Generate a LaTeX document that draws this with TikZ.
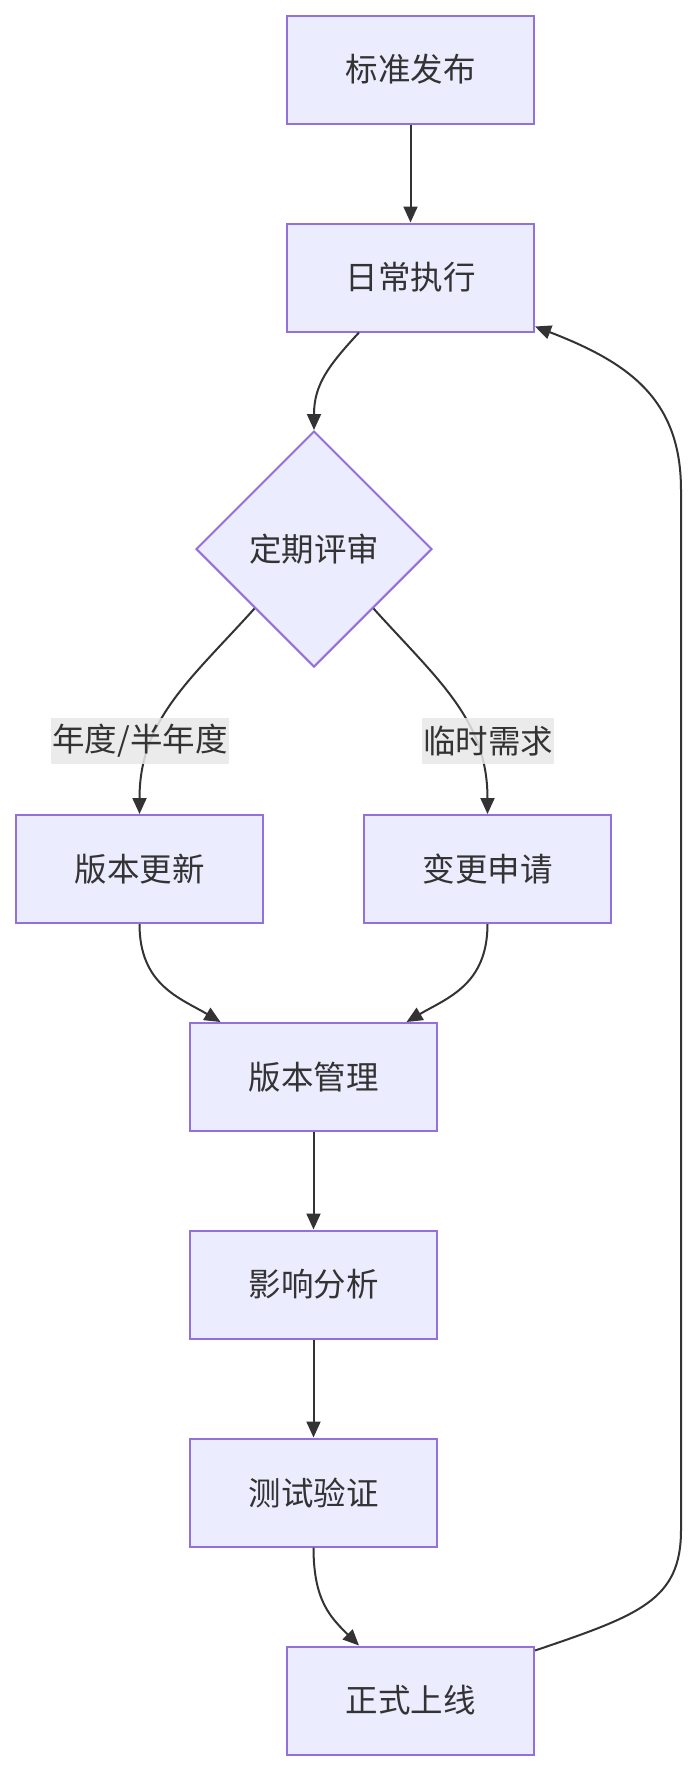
\documentclass[tikz,border=0pt]{standalone}
\usepackage{fontspec}
\setmainfont{Noto Sans CJK SC}
\usetikzlibrary{shapes.geometric,arrows.meta,calc}
\definecolor{boxfill}{HTML}{ECECFF}
\definecolor{boxline}{HTML}{9370DB}
\definecolor{edgecol}{HTML}{333333}
\definecolor{lblfill}{HTML}{E8E8E8}
\begin{document}
\begin{tikzpicture}[x=1pt,y=-1pt,
  every node/.style={font=\fontsize{32.5}{38}\selectfont, text=edgecol},
  procbox/.style={draw=boxline, fill=boxfill, line width=2pt, minimum width=247pt, minimum height=108pt, inner sep=0pt},
  decbox/.style={diamond, draw=boxline, fill=boxfill, line width=2pt, minimum width=236pt, minimum height=236pt, inner sep=0pt},
  lbl/.style={fill=lblfill, fill opacity=0.85, text opacity=1, inner xsep=1pt, inner ysep=0pt, minimum height=46pt},
  flow/.style={draw=edgecol, line width=2pt, -{Triangle[length=16pt,width=14pt]}}
]
\useasboundingbox (0,0) rectangle (698,1772);
\node[procbox] (std) at (410.5,69.5) {标准发布};
\node[procbox] (run) at (410.5,277.5) {日常执行};
\node[decbox] (dec) at (314,549) {定期评审};
\node[procbox] (upd) at (139.5,869) {版本更新};
\node[procbox] (chg) at (487.5,869) {变更申请};
\node[procbox] (mgmt) at (313.5,1077) {版本管理};
\node[procbox] (ana) at (313.5,1284.5) {影响分析};
\node[procbox] (test) at (313.5,1492.5) {测试验证};
\node[procbox] (live) at (410.5,1700.5) {正式上线};

\draw[flow] (std.south) -- (run.north);
\draw[flow] ([xshift=-51.5pt]run.south) .. controls (328,366) and (314,385) .. (dec.north);
\draw[flow] (dec.south west) .. controls (190,680) and (139.5,720) .. (upd.north);
\draw[flow] (dec.south east) .. controls (438,680) and (487.5,720) .. (chg.north);
\draw[flow] (upd.south) .. controls (139.5,985) and (180,998) .. ([xshift=-93pt]mgmt.north);
\draw[flow] (chg.south) .. controls (487.5,985) and (447,998) .. ([xshift=93pt]mgmt.north);
\draw[flow] (mgmt.south) -- (ana.north);
\draw[flow] (ana.south) -- (test.north);
\draw[flow] (test.south) .. controls (313.5,1600) and (330,1617) .. ([xshift=-51.5pt]live.north);
\draw[flow] ([yshift=-5pt]live.north east) .. controls (640,1615) and (681,1600) .. (681,1530) -- (681,490) .. controls (681,400) and (630,363) .. ([yshift=6pt]run.south east);

\node[lbl] (l1) at (140,741) {年度/半年度};
\node[lbl] (l2) at (488,741) {临时需求};
\end{tikzpicture}
\end{document}
